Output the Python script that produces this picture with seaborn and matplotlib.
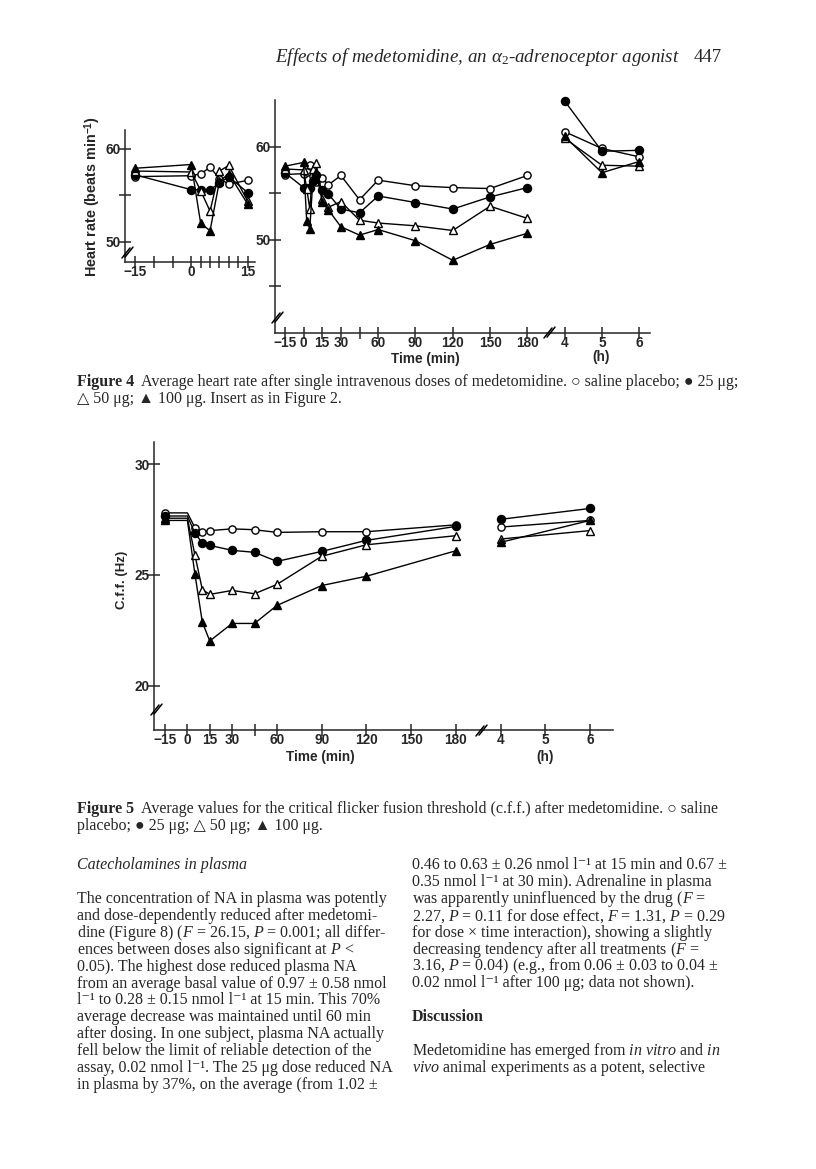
import matplotlib
matplotlib.use('Agg')
import matplotlib.pyplot as plt
from matplotlib.lines import Line2D
import seaborn as sns

sns.set_style('ticks')
plt.rcParams['font.family'] = ['Liberation Sans', 'DejaVu Sans']
plt.rcParams['mathtext.fontset'] = 'custom'
plt.rcParams['mathtext.rm'] = 'Liberation Serif'
plt.rcParams['mathtext.it'] = 'Liberation Serif:italic'
plt.rcParams['mathtext.bf'] = 'Liberation Sans:bold'

W, H = 816, 1169
SERIF = ['Liberation Serif', 'DejaVu Serif']

# ---- Figure 4: heart rate (beats/min) ----
hr_min_early = [-15, 0, 2.5, 5, 7.5, 10, 15]
hr_plc_early = [57.0, 57.1, 57.3, 58.0, 56.8, 56.2, 56.6]
hr_25_early = [57.2, 55.6, 55.6, 55.6, 56.3, 57.0, 55.3]
hr_50_early = [57.6, 57.5, 55.5, 53.3, 57.6, 58.2, 54.4]
hr_100_early = [57.9, 58.3, 52.0, 51.2, 56.5, 57.3, 54.1]

hr_min_late = [20, 30, 45, 60, 90, 120, 150, 180]
hr_plc_late = [55.9, 56.9, 54.3, 56.4, 55.8, 55.6, 55.5, 56.9]
hr_25_late = [54.9, 53.3, 52.9, 54.7, 54.0, 53.3, 54.6, 55.6]
hr_50_late = [53.5, 54.1, 52.1, 51.8, 51.5, 51.0, 53.6, 52.3]
hr_100_late = [53.2, 51.4, 50.5, 51.1, 49.9, 47.8, 49.5, 50.7]

hr_hours = [4, 5, 6]
hr_plc_h = [61.6, 59.8, 58.9]
hr_25_h = [64.9, 59.5, 59.6]
hr_50_h = [60.9, 58.0, 57.9]
hr_100_h = [61.1, 57.2, 58.4]

# ---- Figure 5: critical flicker fusion (Hz) ----
cff_min = [-15, 0, 5, 10, 15, 30, 45, 60, 90, 120, 180]
cff_plc = [27.8, 27.8, 27.14, 26.93, 27.0, 27.08, 27.04, 26.92, 26.95, 26.95, 27.26]
cff_25 = [27.66, 27.66, 26.89, 26.44, 26.33, 26.11, 26.02, 25.61, 26.06, 26.56, 27.19]
cff_50 = [27.56, 27.56, 25.91, 24.34, 24.12, 24.3, 24.15, 24.57, 25.84, 26.36, 26.77]
cff_100 = [27.46, 27.46, 25.06, 22.87, 22.02, 22.81, 22.81, 23.62, 24.52, 24.94, 26.09]

cff_hours = [4, 6]
cff_plc_h = [27.16, 27.46]
cff_25_h = [27.51, 28.0]
cff_50_h = [26.62, 27.0]
cff_100_h = [26.47, 27.46]

min_ticks = [-15, 0, 15, 30, 45, 60, 90, 120, 150, 180]
min_labels = ['\u221215', '0', '15', '30', '', '60', '90', '120', '150', '180']
hour_ticks = [4, 5, 6]

styles = {
    'plc': dict(marker='o', markerfacecolor='white', markersize=5.2),
    '25': dict(marker='o', markerfacecolor='black', markersize=5.8),
    '50': dict(marker='^', markerfacecolor='white', markersize=5.2),
    '100': dict(marker='^', markerfacecolor='black', markersize=5.4),
}


def hpos(hours):
    # hours after dosing drawn right of the 180 min point, 30 min per hour
    return [180 + 30 * (h - 3) for h in hours]


def line(ax, x, y, key, **kw):
    sns.lineplot(x=x, y=y, ax=ax, color='black', lw=1.0, markeredgecolor='black',
                 markeredgewidth=1.0, sort=False, estimator=None, clip_on=False,
                 **styles[key], **kw)


def box(l, t, r, b):
    return [l / W, 1 - b / H, (r - l) / W, (b - t) / H]


def brk(x, y, dx=4, dy=5, gap=3):
    for off in (0, gap):
        fig.add_artist(Line2D([(x - dx + off) / W, (x + dx + off) / W],
                              [1 - (y + dy - off * 0.3) / H, 1 - (y - dy - off * 0.3) / H],
                              color='black', lw=1.1))


def style_axes(ax):
    sns.despine(ax=ax)
    ax.tick_params(direction='inout', length=8, width=1.1, labelsize=9.8)
    ax.tick_params(axis='x', pad=-2)
    ax.tick_params(axis='y', pad=-1)
    for lab in ax.get_xticklabels() + ax.get_yticklabels():
        lab.set_fontweight('bold')
    for s in ('left', 'bottom'):
        ax.spines[s].set_linewidth(1.1)
    ax.set_xlabel('')
    ax.set_ylabel('')
    ax.patch.set_alpha(0)


fig = plt.figure(figsize=(W / 100, H / 100), dpi=100)

# Figure 4 insert
ax_in = fig.add_axes(box(125, 130, 255, 262))
line(ax_in, hr_min_early, hr_plc_early, 'plc')
line(ax_in, hr_min_early, hr_25_early, '25')
line(ax_in, hr_min_early, hr_50_early, '50')
line(ax_in, hr_min_early, hr_100_early, '100')
ax_in.set_xlim(-17.7, 17)
ax_in.set_ylim(47.85, 62)
ax_in.set_xticks([-15, -10, -5, 0, 2.5, 5, 7.5, 10, 12.5, 15])
ax_in.set_xticklabels(['\u221215', '', '', '0', '', '', '', '', '', '15'])
ax_in.set_yticks([50, 55, 60])
ax_in.set_yticklabels(['50', '', '60'])
style_axes(ax_in)

# Figure 4 main panel
ax4 = fig.add_axes(box(275, 100, 650, 333))
for key, e, l, h in [('plc', hr_plc_early, hr_plc_late, hr_plc_h),
                     ('25', hr_25_early, hr_25_late, hr_25_h),
                     ('50', hr_50_early, hr_50_late, hr_50_h),
                     ('100', hr_100_early, hr_100_late, hr_100_h)]:
    line(ax4, hr_min_early + hr_min_late, e + l, key)
    line(ax4, hpos(hr_hours), h, key)
ax4.set_xlim(-23, 278.7)
ax4.set_ylim(40, 65)
ax4.set_xticks(min_ticks + hpos(hour_ticks))
ax4.set_xticklabels(min_labels + [str(h) for h in hour_ticks])
ax4.set_yticks([45, 50, 55, 60])
ax4.set_yticklabels(['', '50', '', '60'])
style_axes(ax4)

# Figure 5
ax5 = fig.add_axes(box(154, 442, 613, 730))
for key, v, h in [('plc', cff_plc, cff_plc_h), ('25', cff_25, cff_25_h),
                  ('50', cff_50, cff_50_h), ('100', cff_100, cff_100_h)]:
    line(ax5, cff_min, v, key, markevery=[0] + list(range(2, len(cff_min))))
    line(ax5, hpos(cff_hours), h, key)
ax5.set_xlim(-22.4, 285.4)
ax5.set_ylim(18, 31)
ax5.set_xticks(min_ticks + hpos(hour_ticks))
ax5.set_xticklabels(min_labels + [str(h) for h in hour_ticks])
ax5.set_yticks([20, 25, 30])
ax5.set_yticklabels(['20', '25', '30'])
style_axes(ax5)

# axis breaks
brk(126, 253)
brk(276, 318)
brk(548, 333)
brk(155, 710)
brk(480, 731)


def txt(x, y, s, **kw):
    kw.setdefault('va', 'center')
    fig.text(x / W, 1 - y / H, s, **kw)


# axis titles
txt(93, 196, 'Heart rate (beats min$^{\\mathbf{-1}}$)', rotation=90, ha='center',
    fontsize=10.4, fontweight='bold')
txt(425, 359, 'Time (min)', ha='center', fontsize=9.8, fontweight='bold')
txt(601, 357, '(h)', ha='center', fontsize=9.8, fontweight='bold')
txt(122, 580, 'C.f.f. (Hz)', rotation=90, ha='center', fontsize=9.5, fontweight='bold')
txt(320, 757, 'Time (min)', ha='center', fontsize=9.8, fontweight='bold')
txt(545, 757, '(h)', ha='center', fontsize=9.8, fontweight='bold')

# running header
txt(680, 57, 'Effects of medetomidine, an $\\alpha_2$-adrenoceptor agonist', ha='right',
    fontsize=13.7, style='italic', family=SERIF)
txt(722, 57, '447', ha='right', fontsize=13.5, family=SERIF)

# captions
cap = dict(fontsize=11.5, family=SERIF, ha='left')
txt(77, 382, 'Figure 4', fontweight='bold', **cap)
txt(141, 382, 'Average heart rate after single intravenous doses of medetomidine. '
    '\u25cb saline placebo; \u25cf 25 \u03bcg;', **cap)
txt(77, 399, '\u25b3 50 \u03bcg; \u25b2 100 \u03bcg. Insert as in Figure 2.', **cap)
txt(77, 809, 'Figure 5', fontweight='bold', **cap)
txt(141, 809, 'Average values for the critical flicker fusion threshold (c.f.f.) after '
    'medetomidine. \u25cb saline', **cap)
txt(77, 826, 'placebo; \u25cf 25 \u03bcg; \u25b3 50 \u03bcg; \u25b2 100 \u03bcg.', **cap)

# body text
body = dict(fontsize=11.5, family=SERIF, ha='left')
left_col = [
    'The concentration of NA in plasma was potently',
    'and dose-dependently reduced after medetomi-',
    'dine (Figure 8) ($F$ = 26.15, $P$ = 0.001; all differ-',
    'ences between doses also significant at $P$ <',
    '0.05). The highest dose reduced plasma NA',
    'from an average basal value of 0.97 \u00b1 0.58 nmol',
    'l\u207b\u00b9 to 0.28 \u00b1 0.15 nmol l\u207b\u00b9 at 15 min. This 70%',
    'average decrease was maintained until 60 min',
    'after dosing. In one subject, plasma NA actually',
    'fell below the limit of reliable detection of the',
    'assay, 0.02 nmol l\u207b\u00b9. The 25 \u03bcg dose reduced NA',
    'in plasma by 37%, on the average (from 1.02 \u00b1',
]
right_col = [
    '0.46 to 0.63 \u00b1 0.26 nmol l\u207b\u00b9 at 15 min and 0.67 \u00b1',
    '0.35 nmol l\u207b\u00b9 at 30 min). Adrenaline in plasma',
    'was apparently uninfluenced by the drug ($F$ =',
    '2.27, $P$ = 0.11 for dose effect, $F$ = 1.31, $P$ = 0.29',
    'for dose \u00d7 time interaction), showing a slightly',
    'decreasing tendency after all treatments ($F$ =',
    '3.16, $P$ = 0.04) (e.g., from 0.06 \u00b1 0.03 to 0.04 \u00b1',
    '0.02 nmol l\u207b\u00b9 after 100 \u03bcg; data not shown).',
]
discussion = [
    'Medetomidine has emerged from $in$ $vitro$ and $in$',
    '$vivo$ animal experiments as a potent, selective',
]
txt(77, 865, 'Catecholamines in plasma', style='italic', **body)
for i, s in enumerate(left_col):
    txt(77, 899 + 16.9 * i, s, **body)
for i, s in enumerate(right_col):
    txt(412, 865 + 16.9 * i, s, **body)
txt(412, 1017, 'Discussion', fontweight='bold', **body)
for i, s in enumerate(discussion):
    txt(412, 1051 + 16.9 * i, s, **body)

fig.savefig('out.png', dpi=100)
